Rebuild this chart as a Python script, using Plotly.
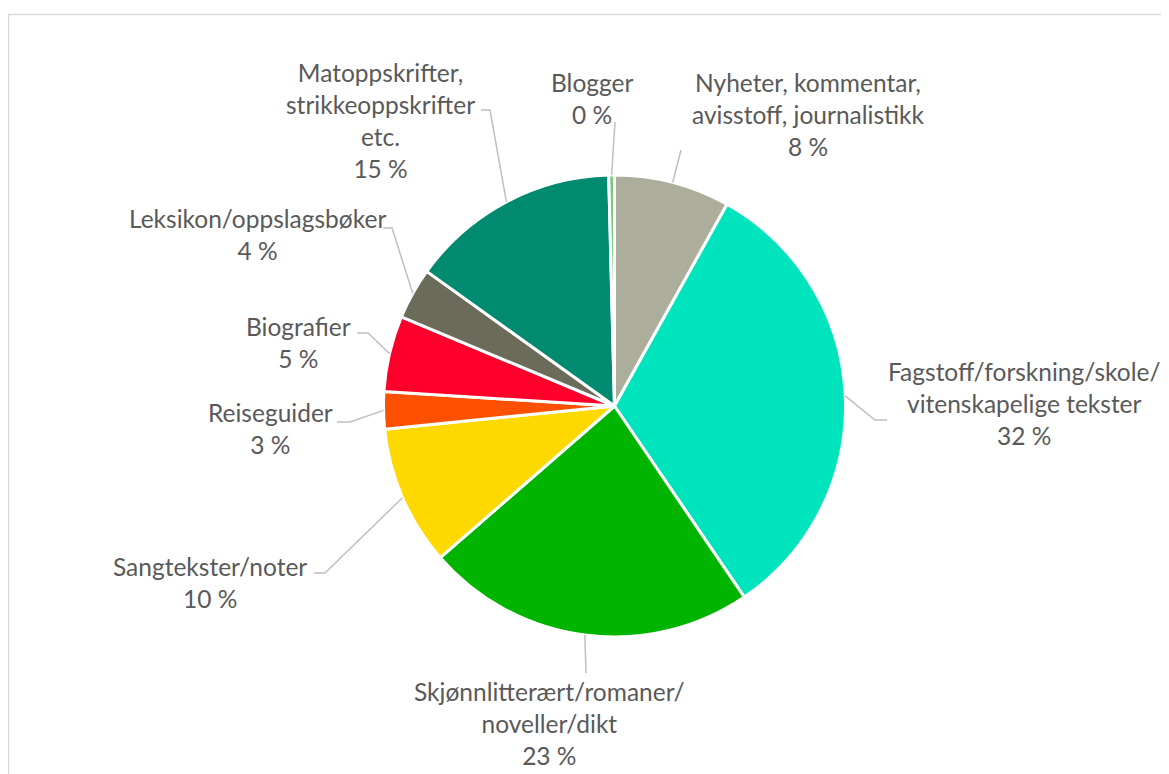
import math
import plotly.graph_objects as go

# page body adds an 8px margin, so the figure is drawn that much smaller
# and every pixel position below is given in window coordinates
W, H = 1169, 774
OFF = 8
FW, FH = W - OFF, H - OFF

# slices, clockwise from 12 o'clock
categories = [
    "Nyheter, kommentar,<br>avisstoff, journalistikk",
    "Fagstoff/forskning/skole/<br>vitenskapelige tekster",
    "Skjønnlitterært/romaner/<br>noveller/dikt",
    "Sangtekster/noter",
    "Reiseguider",
    "Biografier",
    "Leksikon/oppslagsbøker",
    "Matoppskrifter,<br>strikkeoppskrifter<br>etc.",
    "Blogger",
]
shares = [8.1, 32.4, 23.1, 9.8, 2.6, 5.3, 3.6, 14.7, 0.4]
colors = ["#ADAD9C", "#00E4BE", "#00B400", "#FDD900", "#FF5000",
          "#FC002B", "#6B6B59", "#008A6F", "#7CC87C"]

# pie geometry (px)
cx, cy, r = 614.5, 406, 231

# label centre (px) and leader-line elbow points (px), same order as slices
label_pos = [(808, 115), (1024, 403), (549, 723), (210, 582), (270, 428),
             (298, 342), (257, 234), (380, 120), (592, 98)]
leader_pts = [
    [(681, 150)],
    [(875, 420), (887, 420)],
    [(586, 673)],
    [(325, 573), (314, 573)],
    [(350, 422), (337, 422)],
    [(368, 333), (357, 333)],
    [(392, 228), (383, 228)],
    [(490, 110), (481, 110)],
    [(615, 122)],
]


def px(x, y):
    return (x - OFF) / FW, 1 - (y - OFF) / FH


d_x0, d_y1 = px(cx - r, cy - r)
d_x1, d_y0 = px(cx + r, cy + r)

fig = go.Figure(go.Pie(
    labels=categories,
    values=shares,
    sort=False,
    direction="clockwise",
    rotation=0,
    textinfo="none",
    hoverinfo="label+percent",
    marker=dict(colors=colors, line=dict(color="white", width=3)),
    domain=dict(x=[d_x0, d_x1], y=[d_y0, d_y1]),
    showlegend=False,
))

total = sum(shares)
annotations = []
shapes = []
cum = 0
for lab, v, (lx, ly), pts in zip(categories, shares, label_pos, leader_pts):
    mid = (cum + v / 2) / total * 2 * math.pi
    cum += v
    ex, ey = cx + r * math.sin(mid), cy - r * math.cos(mid)
    x0, y0 = px(ex, ey)
    path = f"M {x0},{y0}"
    for qx, qy in pts:
        a, b = px(qx, qy)
        path += f" L {a},{b}"
    shapes.append(dict(type="path", xref="paper", yref="paper", path=path,
                       line=dict(color="#BFBFBF", width=1.5)))
    ax, ay = px(lx, ly)
    annotations.append(dict(
        x=ax, y=ay, xref="paper", yref="paper", xanchor="center", yanchor="middle",
        text=f"{lab}<br>{round(v / total * 100)} %", showarrow=False, align="center",
        font=dict(family="Lato", size=24.5, color="#595959"),
    ))

# chart-area frame (left and top edges visible)
fl, ft = px(8.5, 14.5)
shapes.append(dict(type="path", xref="paper", yref="paper",
                   path=f"M {fl},0 L {fl},{ft} L 1,{ft}",
                   line=dict(color="#D9D9D9", width=1.5)))

fig.update_layout(
    width=FW, height=FH,
    margin=dict(l=0, r=0, t=0, b=0),
    paper_bgcolor="white",
    annotations=annotations,
    shapes=shapes,
)

fig.write_html("out.html")
